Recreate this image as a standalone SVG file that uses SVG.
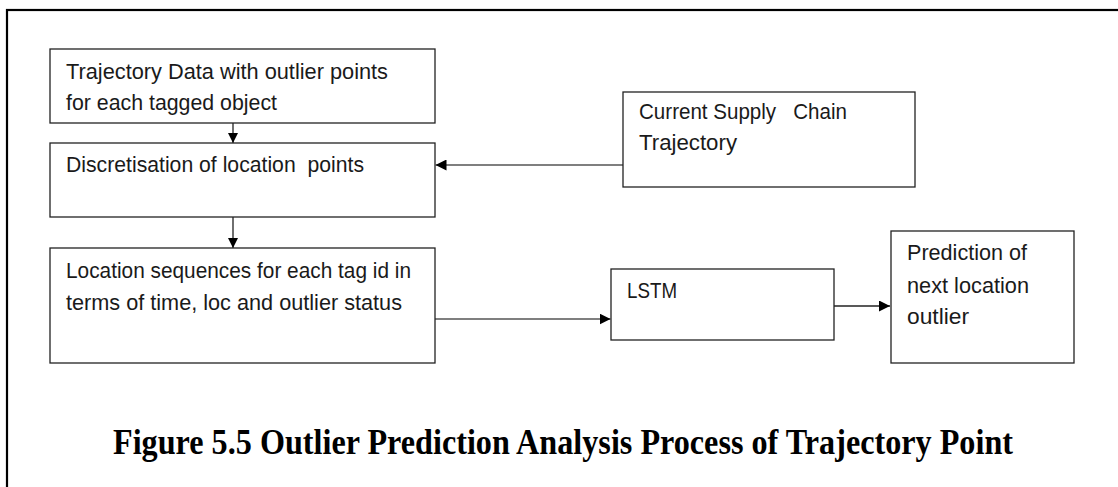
<svg xmlns="http://www.w3.org/2000/svg" width="1118" height="487" viewBox="0 0 1118 487">
  <style>
    .frame { fill: none; stroke: #000; stroke-width: 2.2; }
    .box { fill: #fff; stroke: #222; stroke-width: 1.3; }
    .lbl { font-family: "Liberation Sans", Arial, sans-serif; font-size: 22px; fill: #1a1a1a; }
    .edge { fill: none; stroke: #222; stroke-width: 1.3; }
    .edge-soft { fill: none; stroke: #555; stroke-width: 1.5; }
    .caption { font-family: "Liberation Serif", "Times New Roman", serif; font-weight: bold; font-size: 35px; fill: #000; }
  </style>
  <defs>
    <marker id="arrow" viewBox="0 0 10 10" refX="10" refY="5" markerWidth="10" markerHeight="10" markerUnits="userSpaceOnUse" orient="auto">
      <path d="M0,0 L10,5 L0,10 Z" fill="#000"/>
    </marker>
    <marker id="arrowL" viewBox="0 0 10 10" refX="10" refY="5" markerWidth="11" markerHeight="11" markerUnits="userSpaceOnUse" orient="auto">
      <path d="M0,0 L10,5 L0,10 Z" fill="#000"/>
    </marker>
  </defs>

  <rect width="1118" height="487" fill="#fff"/>

  <!-- outer frame: only the top and left edges fall inside the canvas -->
  <rect class="frame" x="7" y="10" width="1200" height="600"/>

  <g id="connectors">
    <line class="edge" x1="233" y1="123" x2="233" y2="143" marker-end="url(#arrow)"/>
    <line class="edge" x1="233" y1="217" x2="233" y2="248" marker-end="url(#arrow)"/>
    <line class="edge-soft" x1="623" y1="165" x2="435.5" y2="165" marker-end="url(#arrowL)"/>
    <line class="edge-soft" x1="435" y1="319" x2="610.5" y2="319" marker-end="url(#arrowL)"/>
    <line class="edge" x1="834" y1="306" x2="890" y2="306" marker-end="url(#arrowL)"/>
  </g>

  <g id="trajectory-data">
    <rect class="box" x="50" y="49" width="385" height="74"/>
    <text class="lbl" x="66" y="79" textLength="322" lengthAdjust="spacingAndGlyphs">Trajectory Data with outlier points</text>
    <text class="lbl" x="66" y="110" textLength="211" lengthAdjust="spacingAndGlyphs">for each tagged object</text>
  </g>

  <g id="discretisation">
    <rect class="box" x="50" y="143" width="385" height="74"/>
    <text class="lbl" x="66" y="172" textLength="298" lengthAdjust="spacingAndGlyphs" xml:space="preserve">Discretisation of location  points</text>
  </g>

  <g id="location-sequences">
    <rect class="box" x="50" y="248" width="385" height="115"/>
    <text class="lbl" x="66" y="278" textLength="345" lengthAdjust="spacingAndGlyphs">Location sequences for each tag id in</text>
    <text class="lbl" x="66" y="310" textLength="336" lengthAdjust="spacingAndGlyphs">terms of time, loc and outlier status</text>
  </g>

  <g id="current-supply-chain">
    <rect class="box" x="623" y="92" width="292" height="95"/>
    <text class="lbl" x="639" y="119" textLength="208" lengthAdjust="spacingAndGlyphs" xml:space="preserve">Current Supply   Chain</text>
    <text class="lbl" x="639" y="150" textLength="98" lengthAdjust="spacingAndGlyphs">Trajectory</text>
  </g>

  <g id="lstm">
    <rect class="box" x="611" y="269" width="223" height="71"/>
    <text class="lbl" x="627" y="298" textLength="50" lengthAdjust="spacingAndGlyphs">LSTM</text>
  </g>

  <g id="prediction">
    <rect class="box" x="891" y="231" width="183" height="132"/>
    <text class="lbl" x="907" y="260" textLength="120" lengthAdjust="spacingAndGlyphs">Prediction of</text>
    <text class="lbl" x="907" y="293" textLength="122" lengthAdjust="spacingAndGlyphs">next location</text>
    <text class="lbl" x="907" y="324" textLength="62" lengthAdjust="spacingAndGlyphs">outlier</text>
  </g>

  <text class="caption" x="113" y="454" textLength="900" lengthAdjust="spacingAndGlyphs">Figure 5.5 Outlier Prediction Analysis Process of Trajectory Point</text>
</svg>
